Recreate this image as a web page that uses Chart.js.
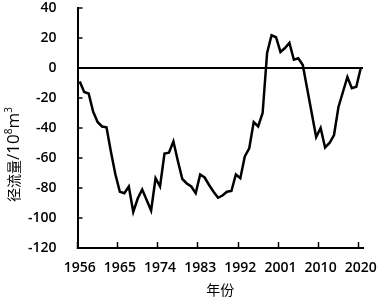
<!DOCTYPE html>
<html lang="zh">
<head>
    <meta charset="UTF-8">
    <title>径流量</title>
    <script src="https://cdn.jsdelivr.net/npm/chart.js@4.4.0/dist/chart.umd.min.js"></script>
    <style>
        body { margin: 0; background: #fff; }
        #wrap { width: 377px; height: 299px; }
    </style>
</head>
<body>
    <div id="wrap">
        <canvas id="runoffChart" width="377" height="299"></canvas>
    </div>

    <script>
        // yearly runoff anomaly, 10^8 m3
        const years = [
            1956, 1957, 1958, 1959, 1960, 1961, 1962, 1963, 1964, 1965,
            1966, 1967, 1968, 1969, 1970, 1971, 1972, 1973, 1974, 1975,
            1976, 1977, 1978, 1979, 1980, 1981, 1982, 1983, 1984, 1985,
            1986, 1987, 1988, 1989, 1990, 1991, 1992, 1993, 1994, 1995,
            1996, 1997, 1998, 1999, 2000, 2001, 2002, 2003, 2004, 2005,
            2006, 2007, 2008, 2009, 2010, 2011, 2012, 2013, 2014, 2015,
            2016, 2017, 2018, 2019
        ];
        const runoff = [
            -9, -16, -17, -29, -36, -39, -39.5, -56, -71, -82.5,
            -83.5, -79, -96, -87, -81, -88, -95, -73.5, -79, -57,
            -56.5, -49, -62, -74, -77, -79, -83.5, -71, -73, -78,
            -82.5, -86.5, -85, -82.5, -82, -71, -73.5, -59, -53.5, -36,
            -39, -30, 10, 21.8, 20.5, 10.7, 13.3, 16.7, 5.5, 6.5,
            2, -14, -30, -46, -40, -53, -50, -44.7, -26, -16,
            -6, -13.5, -12.5, 0
        ];
        const xTickLabels = ['1956', '1965', '1974', '1983', '1992', '2001', '2010', '2020'];
        const labelEvery = 9;

        const latin = "'Open Sans', 'Liberation Sans', sans-serif";
        const cjk = "'Noto Sans CJK SC', sans-serif";

        // rotated y title with superscripts
        const yTitlePlugin = {
            id: 'yTitle',
            afterDraw(chart) {
                const ctx = chart.ctx;
                const parts = [
                    { t: '径流量', font: '14px ' + cjk, dy: 0 },
                    { t: '/10', font: '17px ' + latin, dy: 0 },
                    { t: '8', font: '10px ' + latin, dy: -7 },
                    { t: 'm', font: '17px ' + latin, dy: 0 },
                    { t: '3', font: '10px ' + latin, dy: -7 }
                ];
                ctx.save();
                ctx.translate(19, 202);
                ctx.rotate(-Math.PI / 2);
                ctx.fillStyle = '#000';
                ctx.textBaseline = 'alphabetic';
                let x = 0;
                parts.forEach(p => {
                    ctx.font = p.font;
                    ctx.fillText(p.t, x, p.dy);
                    x += ctx.measureText(p.t).width;
                });
                ctx.restore();
            }
        };

        const ctx = document.getElementById('runoffChart').getContext('2d');
        new Chart(ctx, {
            type: 'line',
            data: {
                labels: years,
                datasets: [{
                    data: runoff,
                    borderColor: '#000',
                    borderWidth: 2.5,
                    pointRadius: 0,
                    tension: 0,
                    fill: false
                }]
            },
            options: {
                responsive: false,
                animation: false,
                layout: { padding: { top: 8, right: 14, left: 0, bottom: 0 } },
                plugins: {
                    legend: { display: false },
                    tooltip: { enabled: false }
                },
                scales: {
                    x: {
                        type: 'category',
                        offset: true,
                        grid: {
                            offset: true,
                            drawOnChartArea: false,
                            drawTicks: true,
                            tickLength: -6,
                            tickWidth: 1.5,
                            tickColor: c => (c.index % labelEvery === 0 ? '#000' : 'rgba(0,0,0,0)')
                        },
                        border: { display: true, color: '#000', width: 2 },
                        ticks: {
                            autoSkip: false,
                            maxRotation: 0,
                            padding: 18,
                            color: '#000',
                            font: { family: latin, size: 14, weight: '600' },
                            callback: (v, i) => (i % labelEvery === 0 ? xTickLabels[i / labelEvery] : '')
                        },
                        title: {
                            display: true,
                            text: '年份',
                            color: '#000',
                            font: { family: cjk, size: 14 },
                            padding: { top: 0, bottom: 1 }
                        },
                        afterFit: s => {
                            s.height = 51;
                            s.paddingLeft = 0;
                            s.paddingRight = 0;
                        }
                    },
                    y: {
                        min: -120,
                        max: 40,
                        ticks: {
                            stepSize: 20,
                            padding: 26,
                            color: '#000',
                            font: { family: latin, size: 14, weight: '600' }
                        },
                        grid: {
                            drawOnChartArea: true,
                            drawTicks: true,
                            tickLength: -5,
                            tickWidth: 1.5,
                            tickColor: '#000',
                            color: c => (c.tick && c.tick.value === 0 ? '#000' : 'rgba(0,0,0,0)'),
                            lineWidth: c => (c.tick && c.tick.value === 0 ? 2 : 0)
                        },
                        border: { display: true, color: '#000', width: 2 },
                        afterFit: s => {
                            s.width = 77.5;
                            s.paddingTop = 0;
                            s.paddingBottom = 0;
                        }
                    }
                }
            },
            plugins: [yTitlePlugin]
        });
    </script>
</body>
</html>
